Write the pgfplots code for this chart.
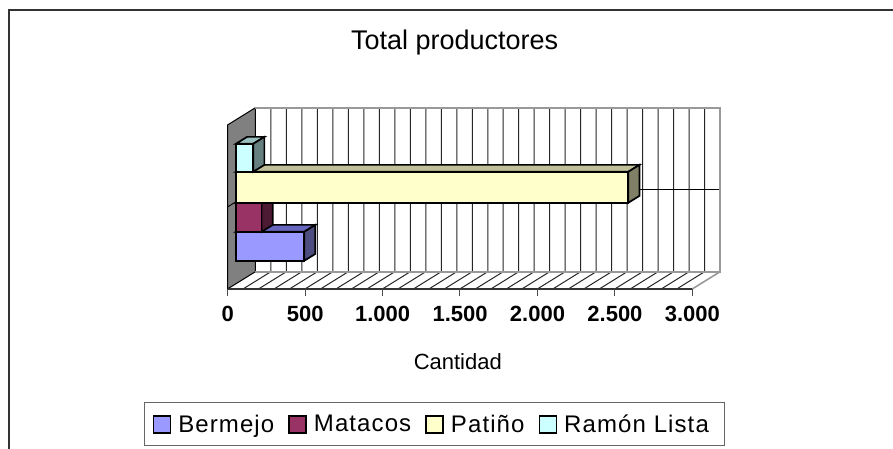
\documentclass[border=0pt]{standalone}
\usepackage{fontspec}
\setmainfont{Liberation Sans}
\usepackage{pgfplots}
\pgfplotsset{compat=1.18}
\definecolor{barA}{HTML}{9999FF}
\definecolor{barAt}{HTML}{6666BF}
\definecolor{barAs}{HTML}{4D4D80}
\definecolor{barB}{HTML}{993366}
\definecolor{barBt}{HTML}{73264D}
\definecolor{barBs}{HTML}{4D1A33}
\definecolor{barC}{HTML}{FFFFCC}
\definecolor{barCt}{HTML}{BFBF99}
\definecolor{barCs}{HTML}{808066}
\definecolor{barD}{HTML}{CCFFFF}
\definecolor{barDt}{HTML}{99BFBF}
\definecolor{barDs}{HTML}{668080}
% value, z bottom, z top, colours front/top/side
\newcommand{\threedbar}[6]{%
  \addplot3[forget plot,draw=black,line width=1.7pt,fill=#5] coordinates {(0,0.3,#3)(#1,0.3,#3)(#1,0.7,#3)(0,0.7,#3)} -- cycle;
  \addplot3[forget plot,draw=black,line width=1.7pt,fill=#6] coordinates {(#1,0.3,#2)(#1,0.7,#2)(#1,0.7,#3)(#1,0.3,#3)} -- cycle;
  \addplot3[forget plot,draw=black,line width=1.7pt,fill=#4] coordinates {(0,0.3,#2)(#1,0.3,#2)(#1,0.3,#3)(0,0.3,#3)} -- cycle;
}
\begin{document}
\begin{tikzpicture}[x=1pt,y=1pt]
\path[use as bounding box] (0,0) rectangle (893,-449);
\draw[line width=2pt,color=black!80] (8.5,-449) -- (8.5,-10.5) -- (893,-10.5);
\begin{axis}[
  at={(227.5pt,-289pt)}, anchor=origin,
  x={(0.1549pt,0pt)}, y={(27.9pt,17.3pt)}, z={(0pt,1pt)},
  xmin=0, xmax=3000, ymin=0, ymax=1, zmin=0, zmax=164,
  clip=false,
  axis line style={draw=none},
  major tick length=0pt,
  ytick=\empty, ztick=\empty,
  xtick={0,500,1000,1500,2000,2500,3000},
  xticklabels={0,500,1.000,1.500,2.000,2.500,3.000},
  xticklabel pos=lower,
  xticklabel style={font=\bfseries\fontsize{22}{22}\selectfont,xshift=6.5pt,yshift=-14pt},
  title={Total productores},
  title style={font=\fontsize{27}{27}\selectfont,at={(axis description cs:0.461,1.29)},anchor=base},
  xlabel={Cantidad},
  xlabel style={font=\fontsize{22}{22}\selectfont,at={(axis description cs:0.4675,-0.445)},anchor=base},
  legend columns=4,
  legend cell align=left,
  legend style={at={(axis description cs:-0.1694,-0.868)},anchor=south west,
    draw=black!60,line width=1pt,inner xsep=8pt,inner ysep=10pt,
    font=\addfontfeature{LetterSpace=4.6}\fontsize{24}{24}\selectfont,
    /tikz/every even column/.style={column sep=12pt},
    /tikz/every odd column/.style={column sep=5pt}},
  legend image code/.code={\draw[#1,line width=1.7pt] (0pt,-9pt) rectangle (17pt,8pt);},
]
% legend order
\addlegendimage{fill=barA,draw=black}
\addlegendentry{Bermejo}
\addlegendimage{fill=barB,draw=black}
\addlegendentry{Matacos}
\addlegendimage{fill=barC,draw=black}
\addlegendentry{Patiño}
\addlegendimage{fill=barD,draw=black}
\addlegendentry{Ramón Lista\rule{6pt}{0pt}}
% walls
\addplot3[forget plot,draw=black,line width=1pt,fill=black!50] coordinates {(0,0,0)(0,1,0)(0,1,164)(0,0,164)} -- cycle;
\pgfplotsinvokeforeach{100,200,...,2900}{
  \addplot3[forget plot,draw=black!85,line width=1pt] coordinates {(#1,0,0)(#1,1,0)(#1,1,164)};
}
\addplot3[forget plot,draw=black,line width=0.9pt] coordinates {(0,1,82)(3000,1,82)};
\addplot3[forget plot,draw=black,line width=0.9pt] coordinates {(0,0,82)(0,1,82)};
\addplot3[forget plot,draw=black!40,line width=1.6pt] coordinates {(0,1,164)(3000,1,164)(3000,1,0)(0,1,0)};
\addplot3[forget plot,draw=black!40,line width=1.6pt] coordinates {(3000,1,0)(3000,0,0)};
\addplot3[forget plot,draw=black!80,line width=1.5pt] coordinates {(0,0,0)(3000,0,0)};
\pgfplotsinvokeforeach{0,500,...,3000}{
  \addplot3[forget plot,draw=black!70,line width=0.9pt] coordinates {(#1,0,0)(#1,0,-7)};
}
% bars, lowest first: each one hides the top of the one under it
\threedbar{441}{23}{52}{barA}{barAt}{barAs}
\threedbar{166}{52}{81}{barB}{barBt}{barBs}
\threedbar{2533}{81}{112}{barC}{barCt}{barCs}
\threedbar{112}{112}{140}{barD}{barDt}{barDs}
\end{axis}
\end{tikzpicture}
\end{document}
